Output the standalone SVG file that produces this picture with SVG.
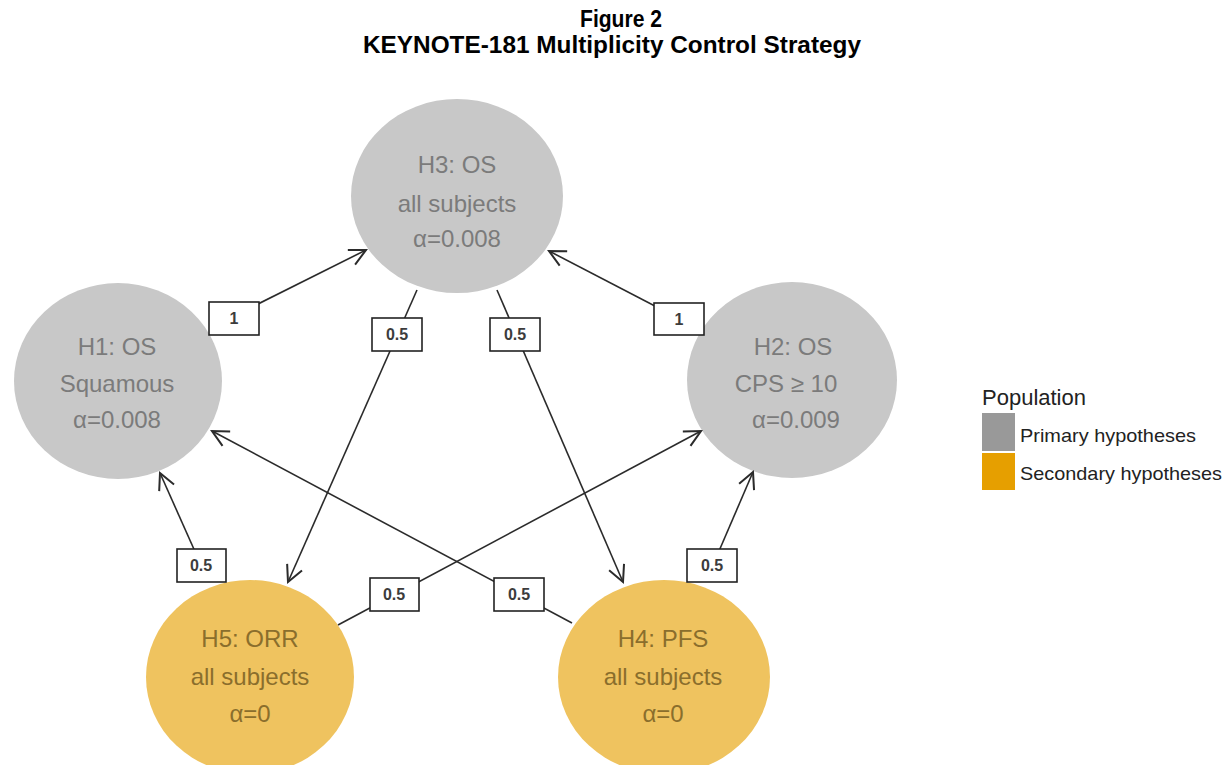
<svg xmlns="http://www.w3.org/2000/svg" width="1224" height="765" viewBox="0 0 1224 765">
<style>
.title{font-family:"Liberation Sans",Arial,sans-serif;font-weight:bold;font-size:23px;fill:#000;text-anchor:middle}
.pri ellipse{fill:#c8c8c8}
.sec ellipse{fill:#efc35f}
.pri text{font-family:"Liberation Sans",Arial,sans-serif;font-size:24px;fill:#7b7b7b;text-anchor:middle}
.sec text{font-family:"Liberation Sans",Arial,sans-serif;font-size:24px;fill:#8a6e2c;text-anchor:middle}
.edge{stroke:#2b2b2b;stroke-width:1.6;fill:none;marker-end:url(#arr)}
.lbl rect{fill:#fff;stroke:#222;stroke-width:1.6}
.lbl text{font-family:"Liberation Sans",Arial,sans-serif;font-size:16px;font-weight:bold;fill:#3c3c3c;text-anchor:middle}
.leg{font-family:"Liberation Sans",Arial,sans-serif;fill:#222}
</style>
<defs>
<marker id="arr" markerUnits="userSpaceOnUse" markerWidth="20" markerHeight="20" viewBox="-14 -8 16 16" refX="0" refY="0" orient="auto">
<path d="M-13,-6.5 L0,0 L-13,6.5" fill="none" stroke="#2b2b2b" stroke-width="1.6"/>
</marker>
</defs>
<rect width="1224" height="765" fill="#fff"/>
<text class="title" x="621" y="27" textLength="82" lengthAdjust="spacingAndGlyphs">Figure 2</text>
<text class="title" x="612" y="53" textLength="498" lengthAdjust="spacingAndGlyphs">KEYNOTE-181 Multiplicity Control Strategy</text>

<g id="H3" class="pri"><ellipse cx="457" cy="196" rx="106" ry="97"/>
<text x="457" y="173">H3: OS</text><text x="457" y="212">all subjects</text><text x="457" y="247">α=0.008</text></g>
<g id="H1" class="pri"><ellipse cx="118" cy="381" rx="104" ry="98"/>
<text x="117" y="355">H1: OS</text><text x="117" y="392">Squamous</text><text x="117" y="428">α=0.008</text></g>
<g id="H2" class="pri"><ellipse cx="792" cy="380" rx="105" ry="98"/>
<text x="793" y="355">H2: OS</text><text x="786" y="392">CPS ≥ 10</text><text x="796" y="428">α=0.009</text></g>
<g id="H5" class="sec"><ellipse cx="250" cy="677" rx="104" ry="97"/>
<text x="250" y="647">H5: ORR</text><text x="250" y="685">all subjects</text><text x="250" y="722">α=0</text></g>
<g id="H4" class="sec"><ellipse cx="664" cy="677" rx="106" ry="97"/>
<text x="663" y="647">H4: PFS</text><text x="663" y="685">all subjects</text><text x="663" y="722">α=0</text></g>

<g id="connectors">
<line class="edge" x1="234" y1="316" x2="366" y2="250"/>
<line class="edge" x1="678" y1="318" x2="549" y2="251"/>
<line class="edge" x1="417" y1="290" x2="288" y2="582"/>
<line class="edge" x1="497" y1="290" x2="623" y2="582"/>
<line class="edge" x1="201" y1="565" x2="160" y2="473"/>
<line class="edge" x1="713" y1="565" x2="753" y2="472"/>
<line class="edge" x1="338" y1="625" x2="701" y2="431"/>
<line class="edge" x1="572" y1="623" x2="212" y2="431"/>
<g class="lbl">
<rect x="209" y="302" width="50" height="33"/><text x="234" y="324">1</text>
<rect x="654" y="303" width="50" height="32"/><text x="679" y="325">1</text>
<rect x="372" y="318" width="50" height="33"/><text x="397" y="340">0.5</text>
<rect x="490" y="318" width="50" height="33"/><text x="515" y="340">0.5</text>
<rect x="177" y="549" width="49" height="33"/><text x="201" y="571">0.5</text>
<rect x="687" y="549" width="50" height="33"/><text x="712" y="571">0.5</text>
<rect x="370" y="578" width="49" height="33"/><text x="394" y="600">0.5</text>
<rect x="494" y="578" width="50" height="33"/><text x="519" y="600">0.5</text>
</g>
</g>

<g id="legend">
<text class="leg" x="982" y="405" font-size="22">Population</text>
<rect x="982" y="413" width="33" height="38" fill="#999999"/>
<rect x="982" y="453" width="33" height="37" fill="#e69f00"/>
<text class="leg" x="1020" y="442" font-size="19" textLength="176" lengthAdjust="spacingAndGlyphs">Primary hypotheses</text>
<text class="leg" x="1020" y="480" font-size="19" textLength="202" lengthAdjust="spacingAndGlyphs">Secondary hypotheses</text>
</g>
</svg>
